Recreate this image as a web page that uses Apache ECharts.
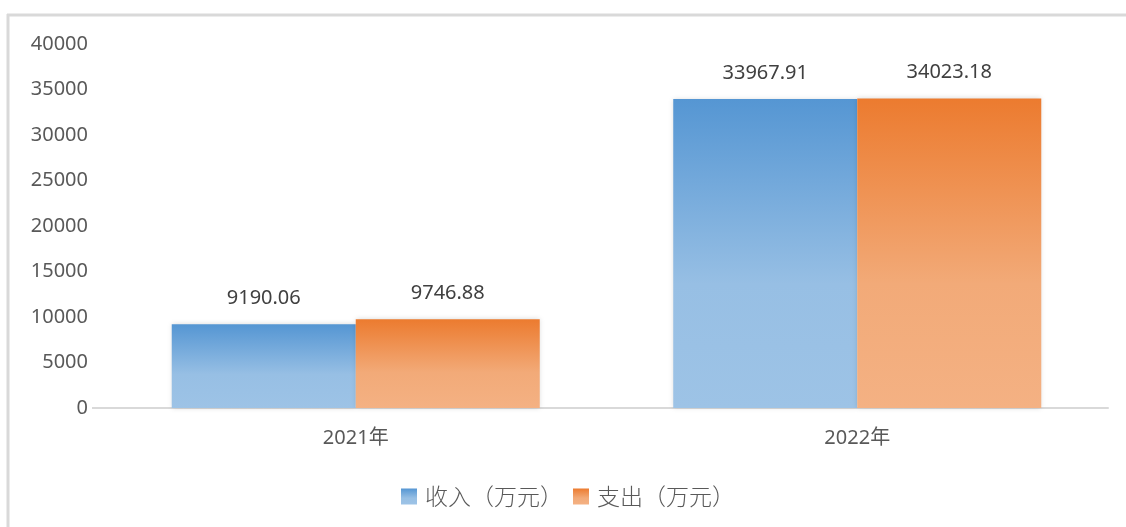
<!DOCTYPE html>
<html>
<head>
<meta charset="utf-8">
<script src="https://cdn.jsdelivr.net/npm/echarts@6/dist/echarts.min.js"></script>
<style>
html,body{margin:0;padding:0;background:#fff;}
#main{width:1126px;height:527px;}
</style>
</head>
<body>
<div id="main"></div>
<script>
const categories = ['2021年', '2022年'];
const seriesNames = ['收入（万元）', '支出（万元）'];
const incomeValues = [9190.06, 33967.91];
const expenseValues = [9746.88, 34023.18];
const yTicks = { min: 0, max: 40000, interval: 5000 };

const font = '"Noto Sans", "Noto Sans CJK SC", sans-serif';
function grad(top, mid, bottom) {
  return new echarts.graphic.LinearGradient(0, 0, 0, 1, [
    { offset: 0, color: top },
    { offset: 0.6, color: mid },
    { offset: 1, color: bottom }
  ]);
}
const blue = grad('#5596d3', '#97bfe4', '#9dc3e6');
const orange = grad('#ec7b2f', '#f2aa78', '#f4b183');

const chart = echarts.init(document.getElementById('main'), null, { renderer: 'canvas' });
chart.setOption({
  animation: false,
  backgroundColor: '#fff',
  graphic: [
    { type: 'line', shape: { x1: 7, y1: 15, x2: 1126, y2: 15 }, style: { stroke: '#d9d9d9', lineWidth: 3 } },
    { type: 'line', shape: { x1: 8, y1: 14, x2: 8, y2: 527 }, style: { stroke: '#d9d9d9', lineWidth: 3 } },
    { type: 'line', shape: { x1: 92, y1: 408, x2: 106, y2: 408 }, style: { stroke: '#d9d9d9', lineWidth: 2 } }
  ],
  grid: { left: 105, right: 18, top: 44, bottom: 119, containLabel: false },
  legend: {
    bottom: 19,
    left: 401,
    padding: 0,
    itemWidth: 16,
    itemHeight: 16,
    itemGap: 10,
    icon: 'rect',
    textStyle: { fontFamily: '"Noto Sans CJK SC", sans-serif', fontSize: 23, color: '#595959', fontWeight: 300, padding: [0, 0, 0, 3] },
    data: seriesNames
  },
  xAxis: {
    type: 'category',
    data: categories,
    axisLine: { lineStyle: { color: '#d9d9d9', width: 2 } },
    axisTick: { show: false },
    axisLabel: { fontFamily: font, fontSize: 20, color: '#595959', margin: 20 }
  },
  yAxis: {
    type: 'value',
    min: yTicks.min,
    max: yTicks.max,
    interval: yTicks.interval,
    splitLine: { show: false },
    axisLine: { show: false },
    axisTick: { show: false },
    axisLabel: { fontFamily: font, fontSize: 20, color: '#595959', margin: 17, formatter: v => String(v) }
  },
  series: [
    {
      name: seriesNames[0],
      type: 'bar',
      data: incomeValues,
      barWidth: 184,
      barGap: '0%',
      itemStyle: { color: blue, shadowBlur: 5, shadowColor: 'rgba(0,0,0,0.15)' },
      label: { show: true, position: 'top', distance: 16, fontFamily: font, fontSize: 20, color: '#404040' }
    },
    {
      name: seriesNames[1],
      type: 'bar',
      data: expenseValues,
      barWidth: 184,
      barGap: '0%',
      itemStyle: { color: orange, shadowBlur: 5, shadowColor: 'rgba(0,0,0,0.15)' },
      label: { show: true, position: 'top', distance: 16, fontFamily: font, fontSize: 20, color: '#404040' }
    }
  ]
});
</script>
</body>
</html>
